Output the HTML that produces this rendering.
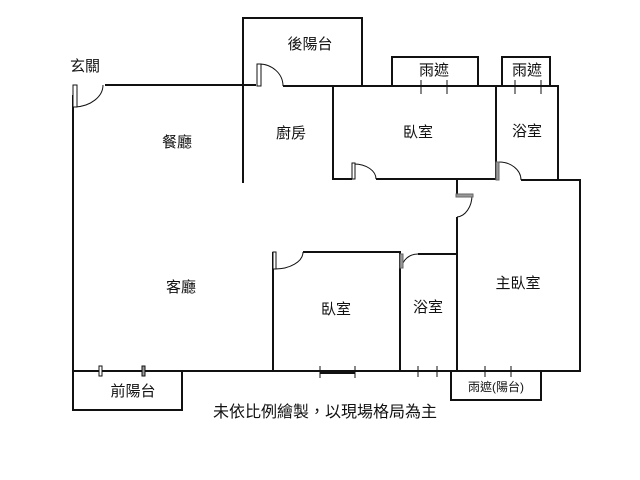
<!DOCTYPE html>
<html><head><meta charset="utf-8"><style>
html,body{margin:0;padding:0;background:#fff;}
svg{display:block}
text{font-family:"Liberation Sans","Noto Sans CJK TC",sans-serif;font-size:15px;fill:#111;text-anchor:middle;dominant-baseline:middle}
</style></head><body>
<svg width="640" height="480" viewBox="0 0 640 480" xmlns="http://www.w3.org/2000/svg">
<g fill="none" stroke="#111" stroke-width="2">
<polyline points="73,95 73,371 580,371 580,180 521,180"/>
<polyline points="105,85 256,85"/>
<polyline points="243,183 243,18 362,18 362,86"/>
<polyline points="283,86 496,86 558,86 558,180"/>
<polyline points="333,86 333,179 352,179"/>
<polyline points="376,179 496,179 496,86"/>
<polyline points="496,179 496,165"/>
<polyline points="392,86 392,57 478,57 478,86"/>
<polyline points="502,86 502,57 550,57 550,86"/>
<polyline points="457,179 457,195"/>
<polyline points="457,217 457,371"/>
<polyline points="273,371 273,252"/>
<polyline points="303,252 400,252 400,371"/>
<polyline points="418,254 457,254"/>
<polyline points="73,371 73,410 182,410 182,371"/>
<polyline points="451,371 451,400 541,400 541,371"/>
</g>
<g fill="none" stroke="#111" stroke-width="1">
<path d="M75,107 A30,22 0 0 0 103,85"/>
<rect x="73" y="85" width="4" height="22" fill="#fff"/>
<path d="M259,64 A24,22 0 0 1 283,86"/>
<rect x="257" y="64" width="4" height="22" fill="#fff"/>
<path d="M354,164 A22,15 0 0 1 376,179"/>
<rect x="352" y="163" width="3" height="16" fill="#fff"/>
<path d="M498,162 A22,18 0 0 1 521,180" />
<rect x="496" y="162" width="3" height="18" fill="#999" stroke="#666"/>
<path d="M472,195 A16,22 0 0 1 457,217"/>
<rect x="456" y="194" width="17" height="3" fill="#999" stroke="#666"/>
<path d="M274,269 A28,17 0 0 0 303,252"/>
<rect x="273" y="252" width="3" height="17" fill="#fff"/>
<path d="M402,268 A16,14 0 0 1 418,254"/>
<rect x="400" y="254" width="3" height="14" fill="#999" stroke="#666"/>
<rect x="99" y="366" width="3" height="10" fill="#fff"/>
<rect x="142" y="366" width="3" height="10" fill="#999"/>
<line x1="320" y1="366" x2="320" y2="378"/>
<line x1="355" y1="366" x2="355" y2="378"/>
<line x1="320" y1="373" x2="355" y2="373" stroke-width="2"/>
<line x1="418" y1="366" x2="418" y2="377"/>
<line x1="437" y1="366" x2="437" y2="377"/>
<line x1="485" y1="366" x2="485" y2="377"/>
<line x1="511" y1="366" x2="511" y2="377"/>
<line x1="421" y1="80" x2="421" y2="94"/>
<line x1="447" y1="80" x2="447" y2="94"/>
<line x1="515" y1="80" x2="515" y2="94"/>
<line x1="541" y1="80" x2="541" y2="94"/>
</g>
<text x="85" y="67">玄關</text>
<text x="310" y="45">後陽台</text>
<text x="177" y="143">餐廳</text>
<text x="291" y="134">廚房</text>
<text x="418" y="133">臥室</text>
<text x="527" y="132">浴室</text>
<text x="434" y="71">雨遮</text>
<text x="527" y="71">雨遮</text>
<text x="181" y="288">客廳</text>
<text x="336" y="310">臥室</text>
<text x="428" y="308">浴室</text>
<text x="518" y="284">主臥室</text>
<text x="133" y="392">前陽台</text>
<text x="496" y="388" style="font-size:12px">雨遮(陽台)</text>
<text x="325" y="413" style="font-size:16px">未依比例繪製，以現場格局為主</text>
</svg>
</body></html>
